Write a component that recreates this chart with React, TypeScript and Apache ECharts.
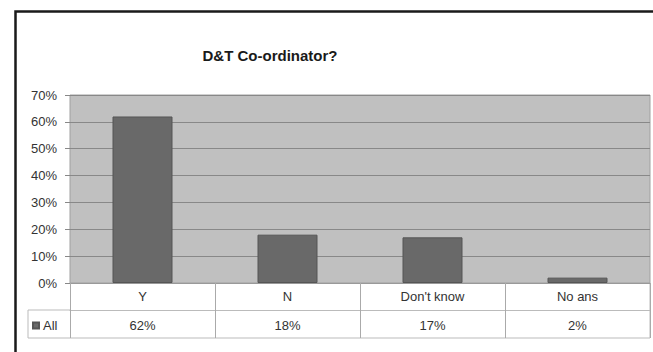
import React, { useEffect, useRef } from "react";
import * as echarts from "echarts";

const titleText = "D&T Co-ordinator?";
const categories = ["Y", "N", "Don't know", "No ans"];
const seriesName = "All";
const values = [62, 18, 17, 2];
const valueLabels = ["62%", "18%", "17%", "2%"];

const FONT = "'Liberation Sans', Arial, sans-serif";

export default function App() {
  const ref = useRef<HTMLDivElement>(null);
  useEffect(() => {
    const chart = echarts.init(ref.current!, undefined, { renderer: "svg" });
    chart.setOption({
      animation: false,
      backgroundColor: "#ffffff",
      title: {
        text: titleText,
        left: 265,
        textAlign: "center",
        top: 43,
        textStyle: { fontFamily: FONT, fontSize: 15, fontWeight: "bold", color: "#1a1a1a" },
      },
      legend: {
        data: [seriesName],
        left: 27,
        top: 314,
        icon: "rect",
        itemWidth: 6,
        itemHeight: 6,
        itemGap: 4,
        textStyle: { fontFamily: FONT, fontSize: 13, color: "#333", padding: [0, 0, 0, -1] },
      },
      grid: {
        left: 70,
        top: 95,
        right: 3,
        bottom: 69,
        show: true,
        backgroundColor: "#c0c0c0",
        borderColor: "#a0a0a0",
        borderWidth: 1,
      },
      xAxis: [
        {
          type: "category",
          data: categories,
          position: "bottom",
          axisLine: { show: true, lineStyle: { color: "#999", width: 1 } },
          axisTick: { show: true, length: 55, alignWithLabel: false, lineStyle: { color: "#aaa" } },
          axisLabel: { fontFamily: FONT, fontSize: 13, color: "#333", margin: 7 },
        },
        {
          type: "category",
          data: valueLabels,
          position: "bottom",
          offset: 27,
          axisLine: { show: true, lineStyle: { color: "#bbb", width: 1 } },
          axisTick: { show: false },
          axisLabel: { fontFamily: FONT, fontSize: 13, color: "#333", margin: 9 },
        },
      ],
      yAxis: {
        type: "value",
        min: 0,
        max: 70,
        interval: 10,
        axisLine: { show: false },
        axisTick: { show: true, length: 5, lineStyle: { color: "#888" } },
        axisLabel: { fontFamily: FONT, fontSize: 13, color: "#333", margin: 13, formatter: "{value}%" },
        splitLine: { show: true, lineStyle: { color: "#888888", width: 1 } },
      },
      series: [
        {
          name: seriesName,
          type: "bar",
          data: values,
          xAxisIndex: 0,
          barWidth: 60,
          itemStyle: { color: "#696969", borderColor: "#555", borderWidth: 1 },
        },
      ],
      graphic: [
        {
          type: "line",
          shape: { x1: 28, y1: 338, x2: 650, y2: 338 },
          style: { stroke: "#bbb", lineWidth: 1 },
        },
        {
          type: "line",
          shape: { x1: 28, y1: 310, x2: 70, y2: 310 },
          style: { stroke: "#bbb", lineWidth: 1 },
        },
        {
          type: "line",
          shape: { x1: 28, y1: 310, x2: 28, y2: 338 },
          style: { stroke: "#bbb", lineWidth: 1 },
        },
        {
          type: "line",
          shape: { x1: 650, y1: 283, x2: 650, y2: 338 },
          style: { stroke: "#bbb", lineWidth: 1 },
        },
        {
          type: "rect",
          shape: { x: 15.5, y: 11.5, width: 700, height: 400 },
          style: { fill: "none", stroke: "#1a1a1a", lineWidth: 2.5 },
        },
      ],
    });
    return () => chart.dispose();
  }, []);
  return (
    <div
      ref={ref}
      style={{ position: "fixed", left: 0, top: 0, width: 653, height: 352 }}
    />
  );
}
